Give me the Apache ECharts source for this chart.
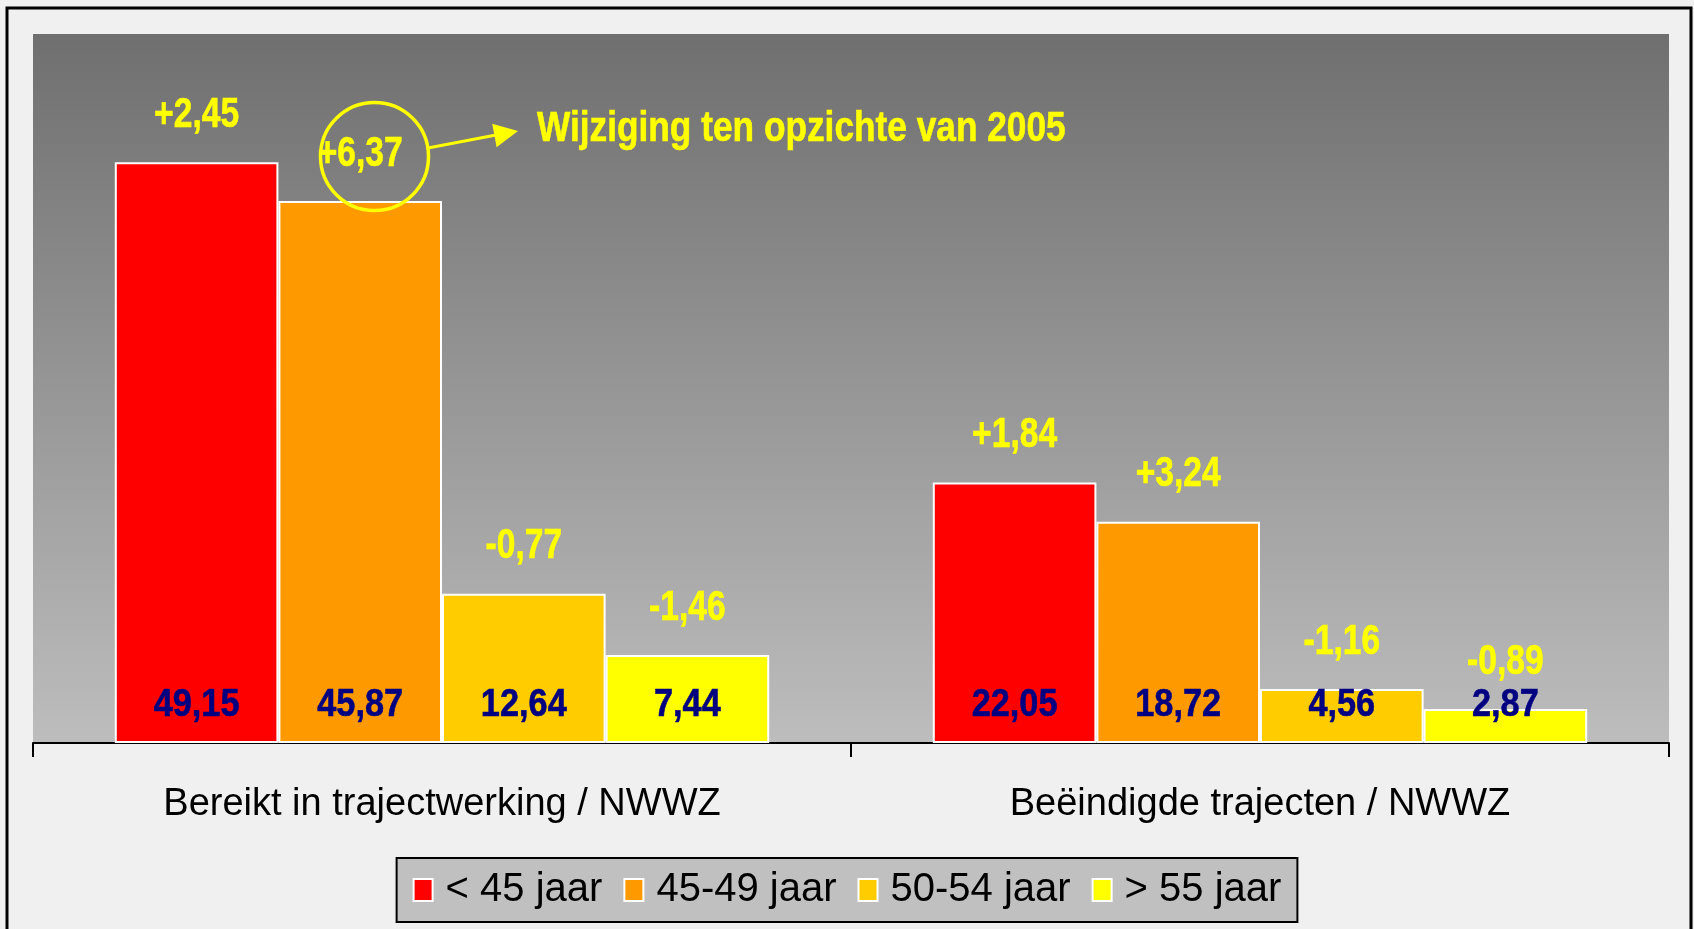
<!DOCTYPE html>
<html lang="nl">
<head>
    <meta charset="UTF-8">
    <title>Trajectwerking NWWZ</title>
    <script src="https://cdn.jsdelivr.net/npm/echarts@6/dist/echarts.min.js"></script>
    <style>
        html, body { margin: 0; padding: 0; background: #f0f0f0; }
        #main { width: 1694px; height: 929px; }
    </style>
</head>
<body>
<div id="main"></div>
<script type="text/javascript">
    // gegevens
    var categories = ['Bereikt in trajectwerking / NWWZ', 'Beëindigde trajecten / NWWZ'];
    var groups = ['< 45 jaar', '45-49 jaar', '50-54 jaar', '> 55 jaar'];
    var colors = ['#ff0000', '#ff9900', '#ffcc00', '#ffff00'];
    var lt45 = [49.15, 22.05];
    var age4549 = [45.87, 18.72];
    var age5054 = [12.64, 4.56];
    var gt55 = [7.44, 2.87];
    // wijziging ten opzichte van 2005
    var chLt45 = [2.45, 1.84];
    var ch4549 = [6.37, 3.24];
    var ch5054 = [-0.77, -1.16];
    var chGt55 = [-1.46, -0.89];

    var values = [lt45, age4549, age5054, gt55];
    var changes = [chLt45, ch4549, ch5054, chGt55];

    var font = "'Liberation Sans', Arial, sans-serif";
    var catGap = 0.2;   // zelfde als barCategoryGap

    function fmt(v) {
        return v.toFixed(2).replace('.', ',');
    }

    var series = [];
    groups.forEach(function (name, i) {
        series.push({
            name: name,
            type: 'bar',
            barCategoryGap: (catGap * 100) + '%',
            barGap: '0%',
            data: values[i],
            itemStyle: {color: colors[i], borderColor: '#ffffff', borderWidth: 2},
            emphasis: {disabled: true}
        });
    });

    // labels apart getekend, zodat de smalle vette letter na te bootsen is
    groups.forEach(function (name, i) {
        series.push({
            name: 'labels ' + name,
            type: 'custom',
            z: 5,
            silent: true,
            data: values[i].map(function (v, j) { return [j, v, changes[i][j]]; }),
            renderItem: function (params, api) {
                var cat = api.value(0), v = api.value(1), c = api.value(2);
                var base = api.coord([cat, 0]);
                var top = api.coord([cat, v]);
                var band = api.size([1, 0])[0];
                var bw = band * (1 - catGap) / groups.length;
                var cx = base[0] - band * (1 - catGap) / 2 + bw * (i + 0.5);
                return {
                    type: 'group',
                    children: [
                        {
                            type: 'text',
                            x: cx,
                            y: base[1] - 38,
                            scaleX: 0.88,
                            style: {
                                text: fmt(v),
                                fontFamily: font, fontWeight: 'bold', fontSize: 39,
                                fill: '#000080', stroke: '#000080', lineWidth: 0.6,
                                align: 'center', verticalAlign: 'middle'
                            }
                        },
                        {
                            type: 'text',
                            x: cx,
                            y: top[1] - 47,
                            scaleX: 0.8,
                            style: {
                                text: (c > 0 ? '+' : '') + fmt(c),
                                fontFamily: font, fontWeight: 'bold', fontSize: 42,
                                fill: '#ffff00', stroke: '#ffff00', lineWidth: 0.6,
                                align: 'center', verticalAlign: 'middle'
                            }
                        }
                    ]
                };
            }
        });
    });

    var myChart = echarts.init(document.getElementById('main'));

    var option = {
        backgroundColor: '#f0f0f0',
        animation: false,
        grid: {
            left: 33,
            right: 25,
            top: 34,
            bottom: 186,
            show: true,
            borderWidth: 0,
            backgroundColor: {
                type: 'linear', x: 0, y: 0, x2: 0, y2: 1,
                colorStops: [
                    {offset: 0, color: '#6f6f6f'},
                    {offset: 1, color: '#bdbdbd'}
                ]
            }
        },
        legend: {
            data: groups,
            left: 'center',
            top: 858,
            backgroundColor: '#c0c0c0',
            borderColor: '#000000',
            borderWidth: 2,
            padding: [12, 16, 12, 16],
            itemWidth: 19,
            itemHeight: 22,
            itemGap: 21,
            icon: 'rect',
            textStyle: {
                fontFamily: font,
                fontSize: 40,
                color: '#000000',
                padding: [0, 0, 0, 8]
            }
        },
        xAxis: {
            type: 'category',
            data: categories,
            axisLine: {lineStyle: {color: '#000000', width: 2}},
            axisTick: {show: true, length: 14, interval: 0, lineStyle: {color: '#000000', width: 2}},
            axisLabel: {
                interval: 0,
                margin: 43,
                fontFamily: font,
                fontSize: 38,
                color: '#000000'
            }
        },
        yAxis: {
            type: 'value',
            min: 0,
            max: 60,
            show: false,
            splitLine: {show: false}
        },
        series: series,
        graphic: [
            {
                // kader rond de grafiek
                type: 'rect',
                shape: {x: 7, y: 8, width: 1684, height: 960},
                style: {fill: 'none', stroke: '#000000', lineWidth: 3},
                silent: true
            },
            {
                type: 'circle',
                shape: {cx: 374.5, cy: 156.5, r: 54},
                style: {fill: 'none', stroke: '#ffff00', lineWidth: 3.5},
                z: 100,
                silent: true
            },
            {
                type: 'line',
                shape: {x1: 428, y1: 148, x2: 496, y2: 135},
                style: {stroke: '#ffff00', lineWidth: 3},
                z: 100,
                silent: true
            },
            {
                type: 'polygon',
                shape: {points: [[518, 131], [496.6, 147.3], [492.2, 123.7]]},
                style: {fill: '#ffff00'},
                z: 100,
                silent: true
            },
            {
                type: 'text',
                x: 537,
                y: 129,
                scaleX: 0.82,
                style: {
                    text: 'Wijziging ten opzichte van 2005',
                    fontFamily: font, fontWeight: 'bold', fontSize: 43,
                    fill: '#ffff00', stroke: '#ffff00', lineWidth: 0.6,
                    verticalAlign: 'middle'
                },
                z: 100,
                silent: true
            }
        ]
    };

    myChart.setOption(option);
</script>
</body>
</html>
